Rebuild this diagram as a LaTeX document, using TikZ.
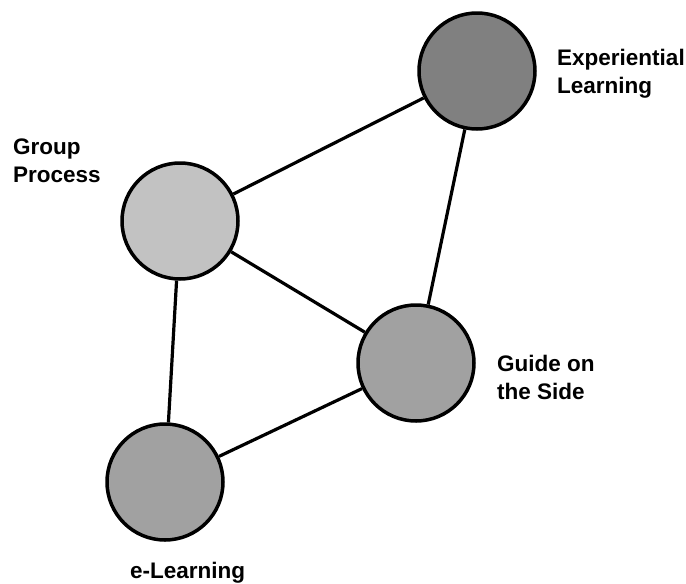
\documentclass[tikz,border=0pt]{standalone}
\usepackage{fontspec}
\setmainfont{Liberation Sans}
\begin{document}
\begin{tikzpicture}[x=1pt,y=-1pt,
  topic/.style={circle,draw=black,line width=3.5pt,minimum size=116pt,inner sep=0pt},
  lbl/.style={font=\bfseries\fontsize{22.5}{28}\selectfont,align=left,anchor=base west,inner sep=0pt},
  link/.style={draw=black,line width=3.2pt}]
\useasboundingbox (0,0) rectangle (686,584);
\node[topic,fill=black!50] (exp) at (477,71) {};
\node[topic,fill=black!24] (grp) at (180,221) {};
\node[topic,fill=black!37] (gui) at (416,363) {};
\node[topic,fill=black!37] (elr) at (165,482) {};
\draw[link] (grp) -- (exp);
\draw[link] (exp) -- (gui);
\draw[link] (grp) -- (gui);
\draw[link] (grp) -- (elr);
\draw[link] (gui) -- (elr);
\node[lbl] (lexp) at (557,93) {Experiential\\Learning};
\node[lbl] (lgrp) at (13,182) {Group\\Process};
\node[lbl] (lgui) at (497,399) {Guide on\\the Side};
\node[lbl] (lelr) at (130,578) {e-Learning};
\end{tikzpicture}
\end{document}
